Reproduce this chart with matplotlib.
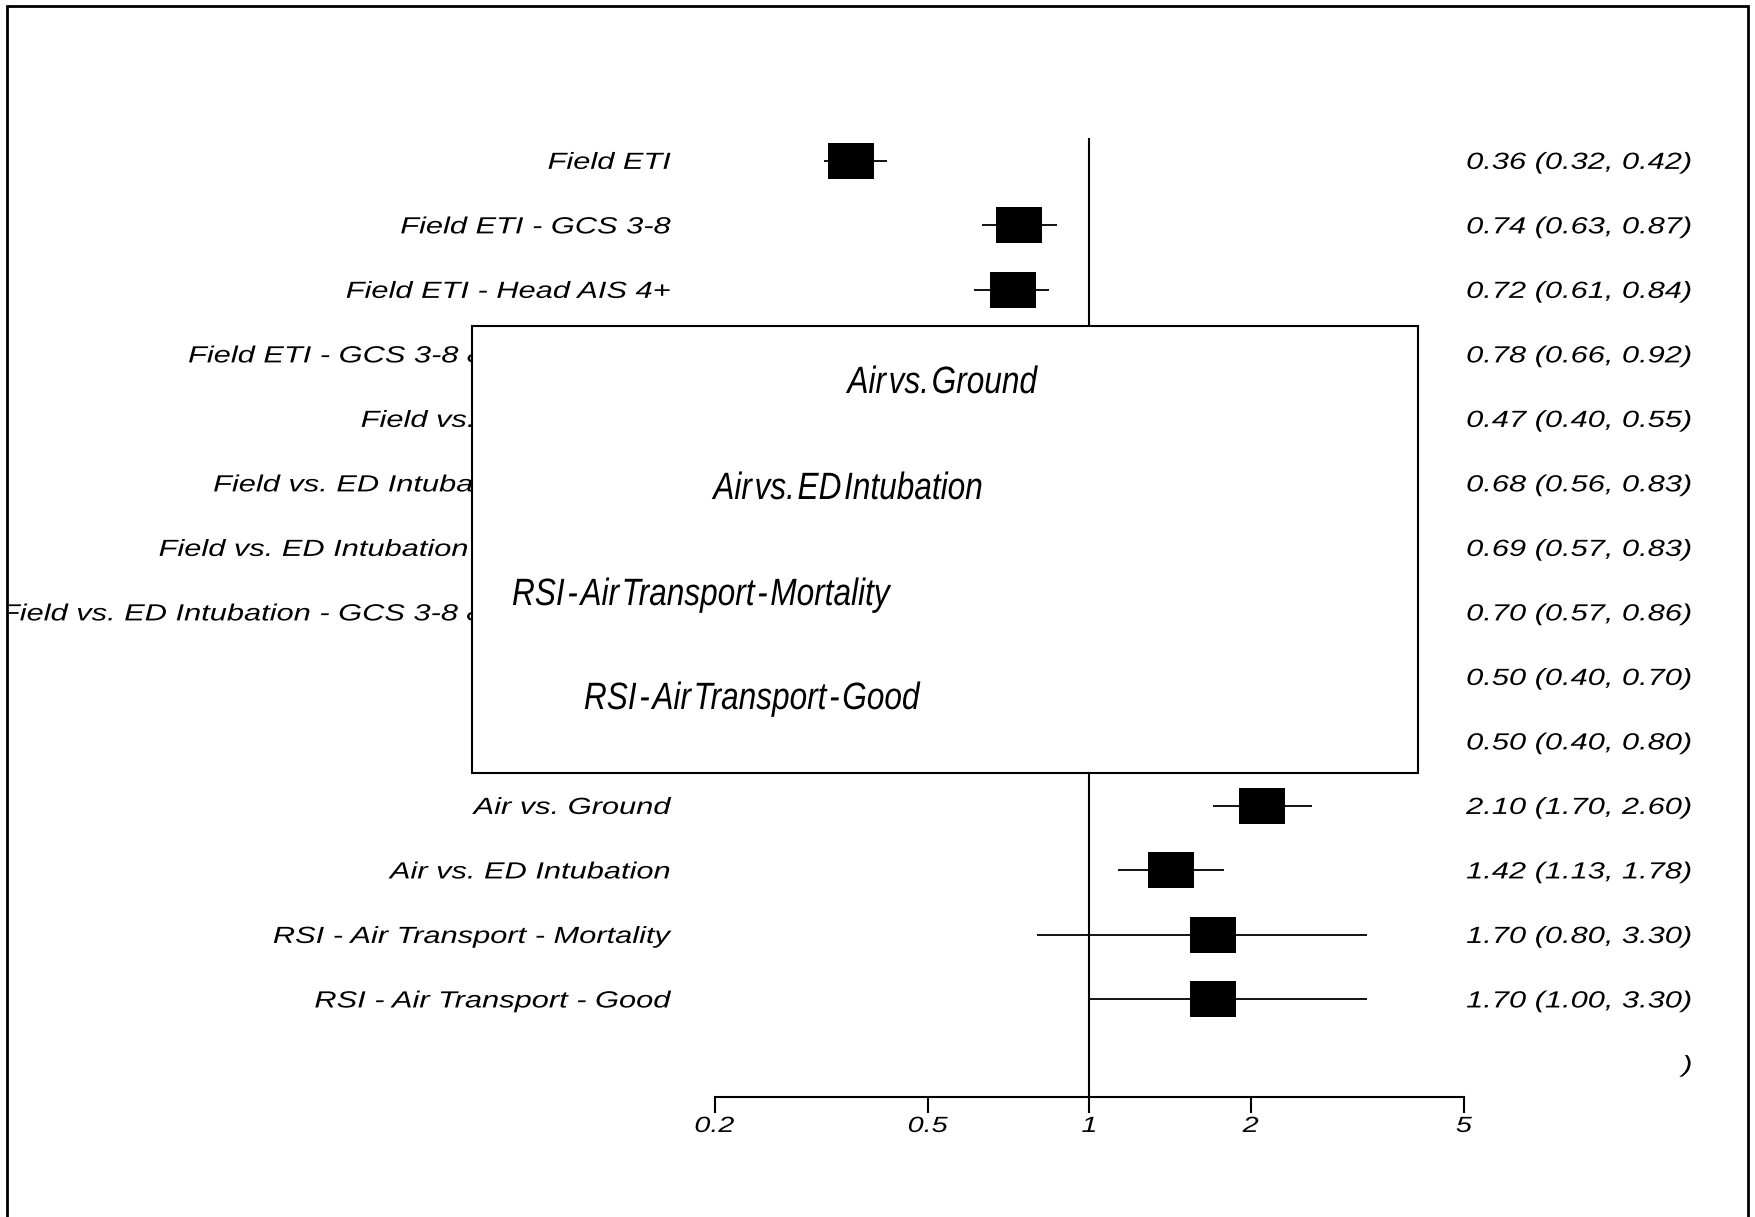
import matplotlib
matplotlib.use("Agg")
import matplotlib.pyplot as plt
from matplotlib.patches import Rectangle
from matplotlib.path import Path
from matplotlib.patheffects import AbstractPathEffect
from matplotlib.transforms import Affine2D, Bbox, TransformedBbox, blended_transform_factory, ScaledTranslation

# ---------------- data ----------------
labels = [
    "Field ETI",
    "Field ETI - GCS 3-8",
    "Field ETI - Head AIS 4+",
    "Field ETI - GCS 3-8 & Head AIS 4+",
    "Field vs. ED Intubation",
    "Field vs. ED Intubation - GCS 3-8",
    "Field vs. ED Intubation - Head AIS 4+",
    "Field vs. ED Intubation - GCS 3-8 & Head AIS 4+",
    "RSI - Mortality",
    "RSI - Good",
    "Air vs. Ground",
    "Air vs. ED Intubation",
    "RSI - Air Transport - Mortality",
    "RSI - Air Transport - Good",
]
estimates = [0.36, 0.74, 0.72, 0.78, 0.47, 0.68, 0.69, 0.70, 0.50, 0.50, 2.10, 1.42, 1.70, 1.70]
ci_low = [0.32, 0.63, 0.61, 0.66, 0.40, 0.56, 0.57, 0.57, 0.40, 0.40, 1.70, 1.13, 0.80, 1.00]
ci_high = [0.42, 0.87, 0.84, 0.92, 0.55, 0.83, 0.83, 0.86, 0.70, 0.80, 2.60, 1.78, 3.30, 3.30]
extra_right_text = ")"
tick_values = [0.2, 0.5, 1, 2, 5]
tick_labels = ["0.2", "0.5", "1", "2", "5"]
overlay_labels = ["Air vs. Ground", "Air vs. ED Intubation",
                  "RSI - Air Transport - Mortality", "RSI - Air Transport - Good"]


class HStretch(AbstractPathEffect):
    """Horizontally scale rendered text glyphs about an anchor."""
    def __init__(self, sx, anchor="center"):
        super().__init__()
        self.sx = sx
        self.anchor = anchor

    def draw_path(self, renderer, gc, tpath, affine, rgbFace=None):
        ext = tpath.get_extents(affine)
        if self.anchor == "left":
            x0 = ext.x0
        elif self.anchor == "right":
            x0 = ext.x1
        else:
            x0 = 0.5 * (ext.x0 + ext.x1)
        aff = affine + Affine2D().translate(-x0, 0).scale(self.sx, 1).translate(x0, 0)
        renderer.draw_path(gc, tpath, aff, rgbFace)


W, H = 1756, 1217
fig = plt.figure(figsize=(W / 100, H / 100), dpi=100)
fig.patch.set_facecolor("white")

FONT = "Liberation Sans"
FS = 16.8
STRETCH = 1.32

ax_left, ax_right = 714.5, 1464.0
ax_top, ax_bot = 138.0, 1096.5
ax = fig.add_axes([ax_left / W, (H - ax_bot) / H, (ax_right - ax_left) / W, (ax_bot - ax_top) / H])
ax.set_xscale("log")
ax.set_xlim(0.2, 5)
ax.set_ylim(14.51, -0.349)
ax.patch.set_alpha(0)
for s in ["left", "top", "right"]:
    ax.spines[s].set_visible(False)
ax.spines["bottom"].set_linewidth(1.5)
ax.set_yticks([])
ax.set_xticks(tick_values)
ax.set_xticklabels(tick_labels)
ax.minorticks_off()
ax.tick_params(axis="x", direction="out", length=11.2, width=1.5, pad=2.8,
               labelsize=15.8)
for t in ax.get_xticklabels():
    t.set_fontfamily(FONT)
    t.set_fontstyle("italic")
    t.set_path_effects([HStretch(1.31, "center")])

ax.axvline(1, color="black", lw=1.5, zorder=1)

rows = list(range(len(labels)))
box_marker = Path([(-1, -0.783), (1, -0.783), (1, 0.783), (-1, 0.783), (-1, -0.783)],
                  [Path.MOVETO, Path.LINETO, Path.LINETO, Path.LINETO, Path.CLOSEPOLY])
ax.hlines(rows, ci_low, ci_high, color="black", lw=1.3, zorder=2)
ax.plot(estimates, rows, linestyle="none", marker=box_marker, markersize=33.1,
        markerfacecolor="black", markeredgewidth=0, zorder=3)

# labels
offs = ScaledTranslation(0, -0.358 * FS / 72, fig.dpi_scale_trans)
ytrans = blended_transform_factory(fig.transFigure, ax.transData) + offs
clip = TransformedBbox(Bbox([[9 / W, 0], [1, 1]]), fig.transFigure)
for i, lab in enumerate(labels):
    t = fig.text(671 / W, i, lab, transform=ytrans, ha="right", va="baseline",
                 fontsize=FS, fontfamily=FONT, fontstyle="italic", color="black", zorder=3)
    t.set_clip_box(clip)
    t.set_clip_on(True)
    t.set_path_effects([HStretch(STRETCH, "right")])
    rt = f"{estimates[i]:.2f} ({ci_low[i]:.2f}, {ci_high[i]:.2f})"
    t2 = fig.text(1692 / W, i, rt, transform=ytrans, ha="right", va="baseline",
                  fontsize=FS, fontfamily=FONT, fontstyle="italic", color="black", zorder=3)
    t2.set_path_effects([HStretch(STRETCH, "right")])
t3 = fig.text(1692 / W, len(labels), extra_right_text, transform=ytrans, ha="right",
              va="baseline", fontsize=FS, fontfamily=FONT, fontstyle="italic", zorder=3)
t3.set_path_effects([HStretch(STRETCH, "right")])

# overlay box
bx0, bx1, by0, by1 = 471.5, 1418.0, 325.5, 773.0
fig.add_artist(Rectangle((bx0 / W, (H - by1) / H), (bx1 - bx0) / W, (by1 - by0) / H,
                         transform=fig.transFigure, facecolor="white", edgecolor="black",
                         lw=1.5, zorder=10))
ov_pos = [(942, 393), (848, 499), (700, 605), (751, 709)]
for (px, py), lab in zip(ov_pos, overlay_labels):
    shown = lab.replace(" ", "\u200a")
    t = fig.text(px / W, (H - py) / H, shown, ha="center", va="baseline", fontsize=27.4,
                 family=[FONT, "DejaVu Sans"], fontstyle="italic", color="black", zorder=11)
    t.set_path_effects([HStretch(0.83, "center")])

# outer frame
fig.add_artist(Rectangle((7 / W, -0.05), (1748 - 7) / W, (H - 6) / H + 0.05,
                         transform=fig.transFigure, fill=False, edgecolor="black",
                         lw=2.0, zorder=12, clip_on=False))

fig.savefig("out.png", dpi=100, facecolor="white")
